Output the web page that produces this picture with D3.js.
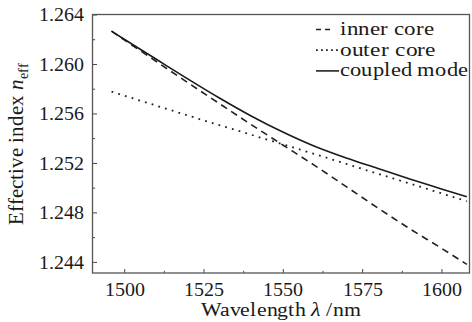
<!DOCTYPE html>
<html>
<head>
<meta charset="utf-8">
<script src="https://cdn.jsdelivr.net/npm/d3@7"></script>
<style>
  @font-face { font-family: "ChartSerif"; src: local("Liberation Serif"), local("LiberationSerif-Regular"), local("LiberationSerif"); font-style: normal; }
  @font-face { font-family: "ChartSerif"; src: local("Liberation Serif Italic"), local("LiberationSerif-Italic"); font-style: italic; }
  body { margin: 0; }
  svg text { font-family: "ChartSerif", "Liberation Serif", "Times New Roman", serif; }
</style>
</head>
<body>
<script>
// values
const wavelength = [1496, 1500, 1510, 1520, 1530, 1540, 1550, 1560, 1570, 1580, 1590, 1600, 1608];
const innerCore = [1.26265, 1.26195, 1.26022, 1.25850, 1.25680, 1.25510, 1.25345, 1.25180, 1.25008, 1.24835, 1.24668, 1.24510, 1.24380];
const outerCore = [1.25776, 1.25744, 1.25664, 1.25584, 1.25505, 1.25428, 1.25350, 1.25272, 1.25192, 1.25112, 1.25034, 1.24954, 1.24890];
const coupledMode = [1.26265, 1.26200, 1.26040, 1.25880, 1.25725, 1.25580, 1.25450, 1.25335, 1.25240, 1.25155, 1.25070, 1.24990, 1.24926];

const xTicks = [1500, 1525, 1550, 1575, 1600];
const xMinorTicks = [1512.5, 1537.5, 1562.5, 1587.5];
const yTicks = [1.244, 1.248, 1.252, 1.256, 1.260, 1.264];
const yMinorTicks = [1.246, 1.250, 1.254, 1.258, 1.262];

const seriesNames = ["inner core", "outer core", "coupled mode"];

const width = 472, height = 322;
const margin = { top: 14.5, right: 2, bottom: 49, left: 92.5 };
const serif = "ChartSerif, Liberation Serif, serif";

const svg = d3.select("body")
    .append("svg")
    .attr("width", width)
    .attr("height", height)
    .style("display", "block");

const x = d3.scaleLinear().domain([1490, 1609]).range([margin.left, width - margin.right]);
const y = d3.scaleLinear().domain([1.2431, 1.264]).range([height - margin.bottom, margin.top]);

// minor ticks, no labels
svg.append("g")
    .attr("transform", `translate(0,${height - margin.bottom})`)
    .call(d3.axisBottom(x).tickValues(xMinorTicks).tickSize(-2.2).tickFormat(""))
    .call(g => g.select(".domain").remove());

svg.append("g")
    .attr("transform", `translate(${margin.left},0)`)
    .call(d3.axisLeft(y).tickValues(yMinorTicks).tickSize(-2.6).tickFormat(""))
    .call(g => g.select(".domain").remove());

// major ticks point into the plot
svg.append("g")
    .attr("transform", `translate(0,${height - margin.bottom})`)
    .call(d3.axisBottom(x).tickValues(xTicks).tickSize(-4).tickPadding(9).tickFormat(d3.format("d")))
    .call(g => g.select(".domain").remove());

svg.append("g")
    .attr("transform", `translate(${margin.left},0)`)
    .call(d3.axisLeft(y).tickValues(yTicks).tickSize(-4.5).tickPadding(9).tickFormat(d3.format(".3f")))
    .call(g => g.select(".domain").remove());

svg.selectAll("g").attr("font-family", null).attr("font-size", null);
svg.selectAll(".tick text")
    .attr("font-size", 20)
    .attr("fill", "#1a1a1a");
svg.selectAll(".tick line").attr("stroke", "#444").attr("stroke-width", 1);

// frame
svg.append("rect")
    .attr("x", x.range()[0])
    .attr("y", y.range()[1])
    .attr("width", x.range()[1] - x.range()[0] - 0.5)
    .attr("height", y.range()[0] - y.range()[1])
    .attr("fill", "none")
    .attr("stroke", "#555")
    .attr("stroke-width", 1.3);

const line = values => d3.line()
    .x((d, i) => x(wavelength[i]))
    .y(d => y(d))
    .curve(d3.curveMonotoneX)(values);

svg.append("path")
    .attr("d", line(innerCore))
    .attr("fill", "none")
    .attr("stroke", "#222")
    .attr("stroke-width", 1.6)
    .attr("stroke-dasharray", "7,5");

svg.append("path")
    .attr("d", line(outerCore))
    .attr("fill", "none")
    .attr("stroke", "#222")
    .attr("stroke-width", 1.8)
    .attr("stroke-dasharray", "1.8,5.2");

svg.append("path")
    .attr("d", line(coupledMode))
    .attr("fill", "none")
    .attr("stroke", "#1a1a1a")
    .attr("stroke-width", 1.6);

// legend
const legendDash = ["5,4", "1.8,3.2", null];
const legendEnd = [14, 23, 23];
seriesNames.forEach((name, i) => {
    const ly = 29.5 + i * 20.7;
    svg.append("line")
        .attr("x1", 316).attr("x2", 316 + legendEnd[i])
        .attr("y1", ly).attr("y2", ly)
        .attr("stroke", "#222")
        .attr("stroke-width", i === 1 ? 1.8 : 1.6)
        .attr("stroke-dasharray", legendDash[i]);
    svg.append("text")
        .attr("x", 340)
        .attr("y", ly + 5.5)
        .attr("font-size", 20)
        .attr("fill", "#1a1a1a")
        .attr("textLength", [94, 96, 128][i])
        .attr("lengthAdjust", "spacingAndGlyphs")
        .text(name);
});

// axis titles
const xTitle = svg.append("text")
    .attr("x", (x.range()[0] + x.range()[1]) / 2)
    .attr("y", 316)
    .attr("text-anchor", "middle")
    .attr("font-size", 20)
    .attr("fill", "#1a1a1a")
    .attr("textLength", 160)
    .attr("lengthAdjust", "spacingAndGlyphs");
xTitle.append("tspan").text("Wavelength ");
xTitle.append("tspan").attr("font-style", "italic").text("λ");
xTitle.append("tspan").text(" /nm");

const yTitle = svg.append("text")
    .attr("transform", `translate(23,${(y.range()[0] + y.range()[1]) / 2}) rotate(-90)`)
    .attr("text-anchor", "middle")
    .attr("font-size", 21)
    .attr("fill", "#1a1a1a");
yTitle.append("tspan").text("Effective index ");
yTitle.append("tspan").attr("font-style", "italic").text("n");
yTitle.append("tspan").attr("dy", 5).attr("font-size", 14).text("eff");
</script>
</body>
</html>
